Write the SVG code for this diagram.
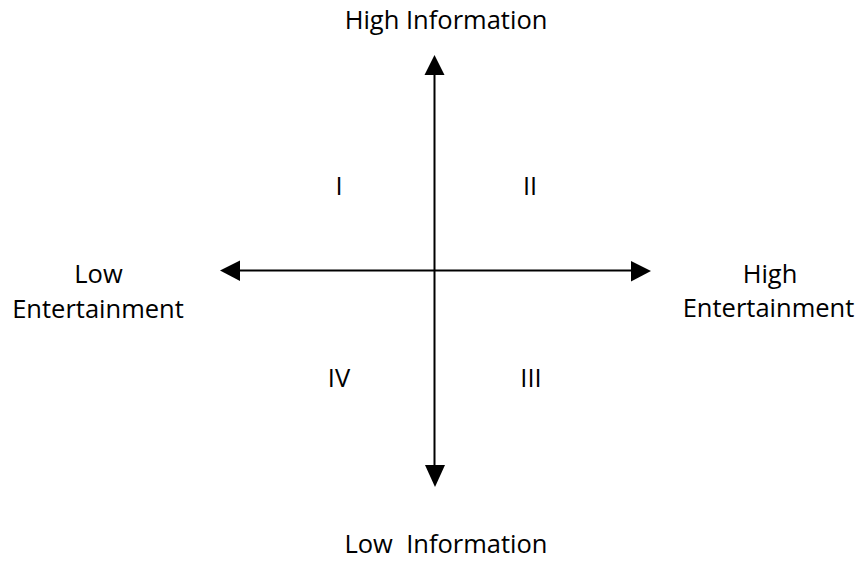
<svg xmlns="http://www.w3.org/2000/svg" width="860" height="561" viewBox="0 0 860 561">
<style>
text{font-family:"Open Sans","Liberation Sans",sans-serif;font-size:25.5px;fill:#000;text-anchor:middle}
.ax{stroke:#000;stroke-width:2;fill:none}
.ah{fill:#000}
</style>
<rect width="860" height="561" fill="#fff"/>
<g id="connectors">
<line class="ax" x1="434.5" y1="72" x2="434.5" y2="468"/>
<polygon class="ah" points="434.5,55 424.5,75 444.5,75"/>
<polygon class="ah" points="435,487 425,465 445,465"/>
<line class="ax" x1="236" y1="270.5" x2="634" y2="270.5"/>
<polygon class="ah" points="220,270.5 240,260.5 240,281"/>
<polygon class="ah" points="651,271 631,261 631,281.5"/>
</g>
<g id="high-info"><text x="446" y="29">High Information</text></g>
<g id="low-info"><text x="446" y="553" xml:space="preserve">Low  Information</text></g>
<g id="low-ent"><text x="98.5" y="283">Low</text><text x="98" y="318">Entertainment</text></g>
<g id="high-ent"><text x="770" y="283">High</text><text x="768.5" y="317">Entertainment</text></g>
<g id="q1"><text x="339" y="195">I</text></g>
<g id="q2"><text x="530" y="195">II</text></g>
<g id="q4"><text x="339" y="387">IV</text></g>
<g id="q3"><text x="531" y="387">III</text></g>
</svg>
